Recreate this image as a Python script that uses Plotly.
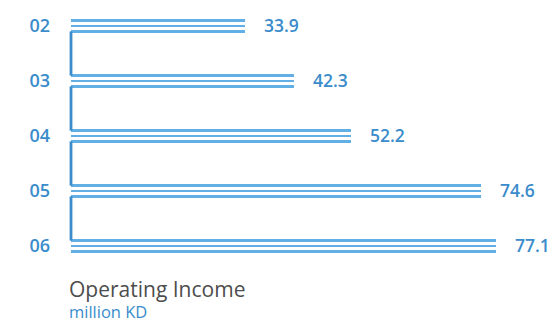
import plotly.graph_objects as go

# ---- data ----
years = ["02", "03", "04", "05", "06"]
operating_income = [33.9, 42.3, 52.2, 74.6, 77.1]
title_text = "Operating Income"
unit_text = "million KD"

# ---- style ----
BAR_COLOR = "#62afe6"
LINK_COLOR = "#3c8bcb"
TEXT_BLUE = "#3a8ccb"
TITLE_GREY = "#4d4d4d"
FONT = "Open Sans"

AXIS_START = 3.21   # value axis is cut (bars start from a clipped origin)
BAR_BASE = 3.9
STRIPE_W = 0.047
STRIPE_GAP = 0.098

pos = list(range(len(years)))

fig = go.Figure()

# three thin stripes per bar
for k in (-1, 0, 1):
    fig.add_trace(go.Bar(
        x=[v - BAR_BASE for v in operating_income],
        y=pos,
        base=BAR_BASE,
        orientation="h",
        width=STRIPE_W,
        offset=k * STRIPE_GAP - STRIPE_W / 2,
        marker=dict(color=BAR_COLOR, line=dict(width=0)),
        hoverinfo="skip",
        showlegend=False,
    ))

# vertical connector between consecutive bars
cx, cy = [], []
for i in range(len(years) - 1):
    cx += [BAR_BASE, BAR_BASE, None]
    cy += [pos[i] + STRIPE_GAP, pos[i + 1] - STRIPE_GAP, None]
fig.add_trace(go.Scatter(
    x=cx, y=cy, mode="lines",
    line=dict(color=LINK_COLOR, width=2.8),
    hoverinfo="skip", showlegend=False,
))

# value labels
for p, v in zip(pos, operating_income):
    fig.add_annotation(
        x=v, y=p, xref="x", yref="y",
        text=f"{v:.1f}", showarrow=False,
        xanchor="left", yanchor="middle", xshift=17, yshift=1,
        font=dict(family=FONT, size=17.5, color=TEXT_BLUE, weight=600),
    )

# title texts
fig.add_annotation(
    x=0, y=-0.024, xref="paper", yref="paper",
    text=title_text, showarrow=False, xanchor="left", yanchor="top", xshift=1,
    borderpad=0,
    font=dict(family=FONT, size=21, color=TITLE_GREY),
)
fig.add_annotation(
    x=0, y=-0.116, xref="paper", yref="paper",
    text=unit_text, showarrow=False, xanchor="left", yanchor="top", xshift=1,
    borderpad=0,
    font=dict(family=FONT, size=16.5, color=TEXT_BLUE, weight=500),
)

fig.update_layout(
    template="none",
    width=553, height=322,
    margin=dict(l=67, r=6, t=4, b=54, autoexpand=False),
    paper_bgcolor="white", plot_bgcolor="white",
    barmode="overlay",
    bargap=0,
    xaxis=dict(range=[AXIS_START, AXIS_START + 480 / 5.8], visible=False,
               fixedrange=True, automargin=False),
    yaxis=dict(
        range=[len(years) - 0.6, -0.4],
        tickvals=pos, ticktext=years,
        showgrid=False, zeroline=False, showline=False,
        ticks="", ticklabelstandoff=16, automargin=False,
        tickfont=dict(family=FONT, size=18, color=TEXT_BLUE, weight=600),
        fixedrange=True,
    ),
    showlegend=False,
)

fig.write_html(
    "out.html",
    config={"displayModeBar": False},
    post_script="document.body.style.margin='0';document.body.style.overflow='hidden';",
)
